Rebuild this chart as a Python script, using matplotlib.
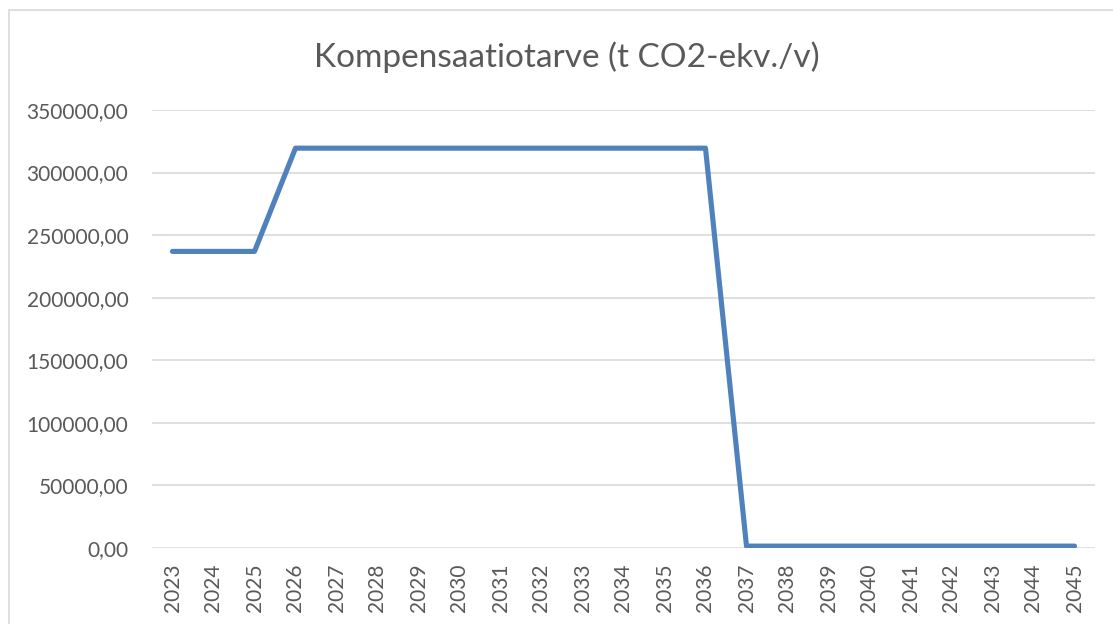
import matplotlib
matplotlib.use("Agg")
import matplotlib.pyplot as plt
from matplotlib.patches import Rectangle
from matplotlib.ticker import FuncFormatter, MultipleLocator

years = [str(y) for y in range(2023, 2046)]
values = [237000, 237000, 237000,
          319500, 319500, 319500, 319500, 319500, 319500, 319500, 319500, 319500, 319500, 319500,
          1500, 1500, 1500, 1500, 1500, 1500, 1500, 1500, 1500]
title = "Kompensaatiotarve (t CO2-ekv./v)"

plt.rcParams['font.family'] = ['Lato', 'DejaVu Sans']

W, H = 1113, 624
fig = plt.figure(figsize=(W / 100, H / 100), dpi=100)
fig.patch.set_facecolor('white')

# chart area border
fig.patches.append(Rectangle((9 / W, -0.1), 1.2, (H - 10) / H + 0.1, transform=fig.transFigure,
                             fill=False, edgecolor='#D9D9D9', linewidth=1.2))

ax = fig.add_axes([152 / W, 1 - 548 / H, (1095 - 152) / W, (548 - 110) / H])
x = list(range(len(years)))
ax.plot(x, values, color='#4F81BD', linewidth=3.7, solid_capstyle='round', solid_joinstyle='round', zorder=3)
ax.set_xlim(-0.5, len(years) - 0.5)
ax.set_ylim(0, 350000)
ax.yaxis.set_major_locator(MultipleLocator(50000))
ax.yaxis.set_major_formatter(FuncFormatter(lambda v, p: f"{v:.2f}".replace('.', ',')))
ax.set_xticks(x)
ax.set_xticklabels(years, rotation=90)
ax.grid(axis='y', color='#D9D9D9', linewidth=1.2)
ax.set_axisbelow(True)
for s in ax.spines.values():
    s.set_visible(False)
ax.tick_params(axis='both', length=0, labelsize=15, colors='#595959')
ax.tick_params(axis='y', pad=17)
ax.tick_params(axis='x', pad=11)

fig.text(567 / W, 1 - 57 / H, title, ha='center', va='center', fontsize=24, color='#595959')

fig.savefig('out.png', dpi=100)
